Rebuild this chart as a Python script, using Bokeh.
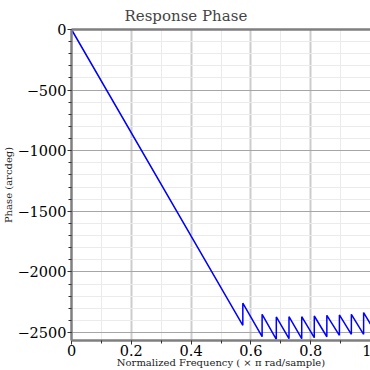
from bokeh.plotting import figure
from bokeh.models import Range1d, FixedTicker, LinearAxis
from bokeh.embed import file_html
from bokeh.resources import INLINE

# Phase response polyline vertices (x in ×π rad/sample, y in degrees)
freq = [0.0, 0.573, 0.573, 0.6375, 0.6375, 0.685, 0.685, 0.7274, 0.7274, 0.770, 0.770,
        0.812, 0.812, 0.854, 0.854, 0.896, 0.896, 0.936, 0.936, 0.977, 0.977, 1.0]
phase = [0, -2440, -2257, -2534, -2349, -2555, -2371, -2550, -2369, -2550, -2369,
         -2542, -2363, -2534, -2357, -2522, -2354, -2514, -2349, -2514, -2335, -2430]

x_ticks = [0.0, 0.2, 0.4, 0.6, 0.8, 1.0]
x_labels = ["0", "0.2", "0.4", "0.6", "0.8", "1"]
x_minor = [0.1, 0.3, 0.5, 0.7, 0.9]
y_ticks = [-2500, -2000, -1500, -1000, -500, 0]
y_labels = ["\u22122500", "\u22122000", "\u22121500", "\u22121000", "\u2212500", "0"]
y_minor = [-2500 + 100 * i for i in range(26)]

FONT = "DejaVu Serif"
AXIS_GRAY = "#7f7f7f"

p = figure(width=371, height=370, output_backend="svg", toolbar_location=None,
           x_range=Range1d(0, 1), y_range=Range1d(-2565, 0),
           min_border_left=65, min_border_right=1, min_border_top=0, min_border_bottom=0)

p.background_fill_color = "white"
p.border_fill_color = "white"
p.outline_line_color = None

p.title.text = "Response Phase"
p.title.text_font = FONT
p.title.text_font_style = "normal"
p.title.text_font_size = "15px"
p.title.align = "left"
p.title.offset = 53
p.title.standoff = 9

xa = p.xaxis[0]
xa.ticker = FixedTicker(ticks=x_ticks, minor_ticks=x_minor)
xa.major_label_overrides = dict(zip(x_ticks, x_labels))
ya = p.yaxis[0]
ya.ticker = FixedTicker(ticks=y_ticks, minor_ticks=y_minor)
ya.major_label_overrides = dict(zip(y_ticks, y_labels))

xa.axis_label = "Normalized Frequency ( \u00d7 \u03c0 rad/sample)"
ya.axis_label = "Phase (arcdeg)"

for ax in (xa, ya):
    ax.axis_line_color = AXIS_GRAY
    ax.axis_line_width = 2.5
    ax.major_tick_in = 0
    ax.major_tick_out = 4
    ax.minor_tick_in = 0
    ax.minor_tick_out = 3
    ax.major_tick_line_color = "#333333"
    ax.minor_tick_line_color = "#333333"
    ax.major_label_text_font = FONT
    ax.major_label_text_font_size = "14.5px"
    ax.major_label_text_color = "black"
    ax.axis_label_text_font = FONT
    ax.axis_label_text_font_style = "normal"
    ax.axis_label_text_font_size = "10px"
    ax.axis_label_text_color = "#222222"

xa.major_label_standoff = 0
xa.axis_label_standoff = -2
ya.major_label_standoff = 1
ya.axis_label_standoff = 0

top = LinearAxis(ticker=FixedTicker(ticks=[]), major_label_text_font_size="0px",
                 major_tick_out=0, major_tick_in=0, minor_tick_out=0, minor_tick_in=0,
                 major_label_standoff=0, axis_line_color=AXIS_GRAY, axis_line_width=2.5)
p.add_layout(top, "above")

p.xgrid.grid_line_color = "#cccccc"
p.xgrid.grid_line_width = 2
p.xgrid.minor_grid_line_color = "#ebebeb"
p.xgrid.minor_grid_line_width = 1
p.ygrid.grid_line_color = "#a6a6a6"
p.ygrid.grid_line_width = 1
p.ygrid.minor_grid_line_color = "#ebebeb"
p.ygrid.minor_grid_line_width = 1

p.line(freq, phase, line_color="#0000ff", line_width=1.5)

open("out.html", "w").write(file_html(p, INLINE))
